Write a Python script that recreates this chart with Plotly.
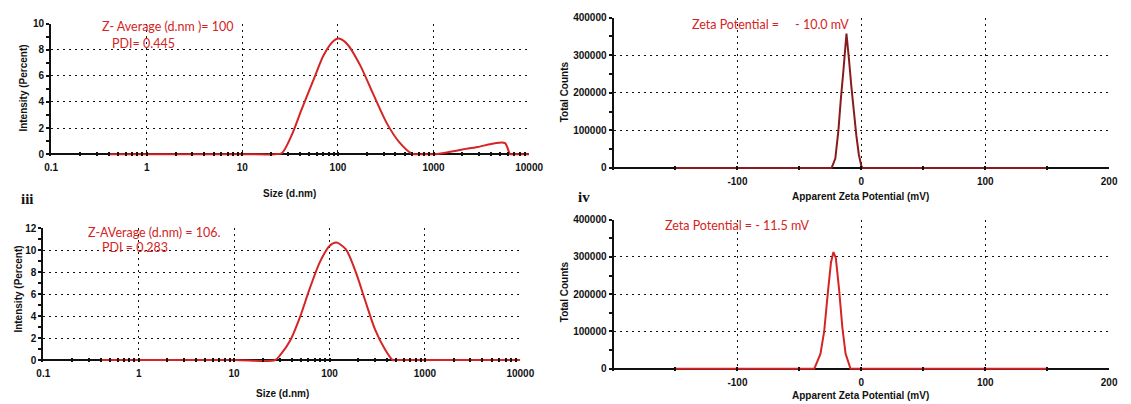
import plotly.graph_objects as go

W, H = 1131, 404

# ---------------- data ----------------
# DLS size distribution, sample 1 (top-left)
size_1 = [0.4, 1, 10, 22, 26, 33, 41.5, 57, 71, 91, 102, 126, 171, 234, 323, 440, 590, 650,
          980, 1050, 1950, 2900, 4400, 5600, 6300, 6500, 10000]
intensity_1 = [0, 0, 0, 0, 0.1, 1.5, 3.4, 5.9, 7.6, 8.7, 8.85, 8.4, 6.8, 4.6, 2.4, 0.9, 0.05, 0,
               0, 0, 0.35, 0.55, 0.85, 0.85, 0, 0, 0]

# DLS size distribution, sample 2 (bottom-left)
size_2 = [0.4, 1, 10, 27, 30.7, 38.9, 49, 62, 79, 100, 118, 148, 187, 237, 300, 380, 460, 500,
          1000, 10000]
intensity_2 = [0, 0, 0, 0, 0.5, 1.8, 3.9, 6.5, 8.9, 10.4, 10.7, 10.1, 8.1, 5.4, 2.8, 1.0, 0, 0,
               0, 0]

# Zeta potential distribution, sample 1 (top-right)
zeta_1 = [-150, -24, -21, -18.5, -16.5, -14.5, -12, -10, -8, -6, -4, -2, 0, 1, 150]
counts_1 = [0, 0, 25000, 100000, 185000, 258000, 358000, 290000, 215000, 150000, 85000,
            35000, 5000, 0, 0]

# Zeta potential distribution, sample 2 (bottom-right)
zeta_2 = [-150, -38, -33, -30, -27, -24.5, -22.5, -20.6, -18, -15.3, -12.7, -8.7, 150]
counts_2 = [0, 0, 40000, 100000, 205000, 285000, 313000, 297000, 214000, 110000, 40000, 0, 0]

size_ticks = [0.1, 1, 10, 100, 1000, 10000]
size_ticktext = ["0.1", "1", "10", "100", "1000", "10000"]
zeta_ticks = [-100, 0, 100, 200]
zeta_ticktext = ["-100", "0", "100", "200"]
count_ticks = [0, 100000, 200000, 300000, 400000]
count_ticktext = ["0", "100000", "200000", "300000", "400000"]

labels_top = ["Z- Average (d.nm )= 100", "PDI= 0.445"]
labels_bot = ["Z-AVerage (d.nm) = 106.", "PDI = 0.283"]
zeta_label_1 = "Zeta Potential = &nbsp;&nbsp;&nbsp;&nbsp;- 10.0 mV"
zeta_label_2 = "Zeta Potential = - 11.5 mV"

# ---------------- helpers ----------------
def px(x):
    return x / W

def py(y):
    return 1 - y / H

RED = "#d42424"
DARKRED = "#861c1c"
INK = "#111"
TICKFONT = dict(family="Liberation Sans, Arial", size=10, color=INK, weight="bold")
GRID = dict(showgrid=True, gridcolor=INK, gridwidth=1.4, griddash="2px,4px")

minor_log = []
for dec in [0.1, 1, 10, 100, 1000]:
    minor_log += [dec * k for k in range(2, 10)]

fig = go.Figure()

fig.add_trace(go.Scatter(x=size_1, y=intensity_1, mode="lines", xaxis="x", yaxis="y",
                         line=dict(color=RED, width=2, shape="spline", smoothing=0.8,
                                   simplify=False)))
fig.add_trace(go.Scatter(x=size_2, y=intensity_2, mode="lines", xaxis="x2", yaxis="y2",
                         line=dict(color=RED, width=2, shape="spline", smoothing=0.8,
                                   simplify=False)))
fig.add_trace(go.Scatter(x=zeta_1, y=counts_1, mode="lines", xaxis="x3", yaxis="y3",
                         line=dict(color=DARKRED, width=2, simplify=False)))
fig.add_trace(go.Scatter(x=zeta_2, y=counts_2, mode="lines", xaxis="x4", yaxis="y4",
                         line=dict(color=RED, width=2, simplify=False)))

XCOMMON = dict(tickfont=TICKFONT, ticks="inside", ticklen=4, tickwidth=1.5, tickcolor=INK,
               showline=False, zeroline=False, ticklabelstandoff=4)

def log_xaxis(domain, anchor):
    return dict(type="log", range=[-1, 4], domain=domain, anchor=anchor,
                tickvals=size_ticks, ticktext=size_ticktext,
                minor=dict(tickvals=minor_log, ticks="inside", ticklen=4, tickwidth=1.5,
                           tickcolor=INK, showgrid=False),
                **XCOMMON, **GRID)

def zeta_xaxis(domain, anchor):
    return dict(range=[-200, 200], domain=domain, anchor=anchor,
                tickvals=zeta_ticks, ticktext=zeta_ticktext,
                minor=dict(tickvals=[-150, -50, 50, 150], ticks="inside", ticklen=4,
                           tickwidth=1.5, tickcolor=INK, showgrid=False),
                **XCOMMON, **GRID)

def lin_yaxis(y0_px, ytop_px, top, anchor, tickvals, ticktext, minor_vals):
    # zero sits 2 px above the bottom edge so the data line can cover the zero line
    per_px = top / (y0_px - ytop_px)
    return dict(range=[-2 * per_px, top], domain=[py(y0_px + 2), py(ytop_px)], anchor=anchor,
                tickvals=tickvals, ticktext=ticktext, tickfont=TICKFONT,
                ticks="outside", ticklen=3, tickwidth=1.5, tickcolor=INK,
                showline=True, linecolor=INK, linewidth=2,
                zeroline=True, zerolinecolor=INK, zerolinewidth=2,
                minor=dict(tickvals=minor_vals, ticks="outside", ticklen=3, tickwidth=1.5,
                           tickcolor=INK, showgrid=False),
                **GRID)

count_minor = [50000, 150000, 250000, 350000]

fig.update_layout(
    width=W, height=H, margin=dict(l=0, r=0, t=0, b=0),
    paper_bgcolor="white", plot_bgcolor="white", showlegend=False,
    xaxis=log_xaxis([px(45), px(532)], "y"),
    yaxis=lin_yaxis(152, 18, 10, "x", [0, 2, 4, 6, 8, 10], ["0", "2", "4", "6", "8", "10"],
                    [1, 3, 5, 7, 9]),
    xaxis2=log_xaxis([px(37), px(523)], "y2"),
    yaxis2=lin_yaxis(363, 228, 12, "x2", [0, 2, 4, 6, 8, 10, 12],
                     ["0", "2", "4", "6", "8", "10", "12"], [1, 3, 5, 7, 9, 11]),
    xaxis3=zeta_xaxis([px(618), px(1123)], "y3"),
    yaxis3=lin_yaxis(166, 12, 400000, "x3", count_ticks, count_ticktext, count_minor),
    xaxis4=zeta_xaxis([px(618), px(1123)], "y4"),
    yaxis4=lin_yaxis(372, 219, 400000, "x4", count_ticks, count_ticktext, count_minor),
)

ann = []
TITLEFONT = dict(family="Liberation Sans, Arial", size=10, color=INK, weight="bold")
REDFONT = dict(family="Lato, Liberation Sans", size=12.5, color=RED)

def add_text(x, y, text, font, xanchor="center", angle=0):
    ann.append(dict(x=px(x), y=py(y), xref="paper", yref="paper", text=text, showarrow=False,
                    font=font, xanchor=xanchor, yanchor="middle", textangle=angle))

# axis titles
add_text(288, 192, "Size (d.nm)", TITLEFONT)
add_text(281, 397, "Size (d.nm)", TITLEFONT)
add_text(17, 84, "Intensity (Percent)", TITLEFONT, angle=-90)
add_text(12, 290, "Intensity (Percent)", TITLEFONT, angle=-90)
add_text(870, 195, "Apparent Zeta Potential (mV)", TITLEFONT)
add_text(870, 399, "Apparent Zeta Potential (mV)", TITLEFONT)
add_text(568, 88, "Total Counts", TITLEFONT, angle=-90)
add_text(568, 293, "Total Counts", TITLEFONT, angle=-90)

# red annotations
add_text(95, 21, labels_top[0], REDFONT, xanchor="left")
add_text(105, 38, labels_top[1], REDFONT, xanchor="left")
add_text(81, 232, labels_bot[0], REDFONT, xanchor="left")
add_text(95, 248, labels_bot[1], REDFONT, xanchor="left")
add_text(696, 19, zeta_label_1, REDFONT, xanchor="left")
add_text(668, 225, zeta_label_2, REDFONT, xanchor="left")

# panel labels
PANELFONT = dict(family="Liberation Serif, Times New Roman", size=15, color=INK, weight="bold")
add_text(12, 198, "iii", PANELFONT, xanchor="left")
add_text(580, 196, "iv", PANELFONT, xanchor="left")

fig.update_layout(annotations=ann)
fig.write_html("out.html")
